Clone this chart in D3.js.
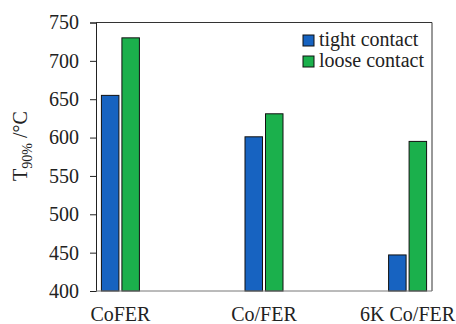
<!DOCTYPE html>
<html lang="en">
<head>
  <meta charset="UTF-8" />
  <title>T90% by catalyst</title>
  <script src="https://d3js.org/d3.v7.min.js"></script>
  <style>
    body { margin: 0; background: white; }
    svg text { font-family: "Liberation Serif", "DejaVu Serif", serif !important; }
  </style>
</head>
<body>
  <svg width="456" height="324"></svg>

  <script>
    // Data
    const categories = ["CoFER", "Co/FER", "6K Co/FER"];
    const tightContact = [655, 601, 447];
    const looseContact = [730, 631, 595];
    const seriesNames = ["tight contact", "loose contact"];
    const yTicks = [400, 450, 500, 550, 600, 650, 700, 750];

    const svg = d3.select("svg");
    const plotLeft = 96, plotRight = 432, plotTop = 22.5, plotBottom = 291;

    const colors = ["#1763c1", "#1bb04c"];

    const x = d3.scalePoint()
      .domain(categories)
      .range([plotLeft, plotRight])
      .padding(0.17);

    const y = d3.scaleLinear()
      .domain([400, 750])
      .range([plotBottom, plotTop]);

    // Frame (top and right)
    svg.append("path")
      .attr("d", `M${plotLeft},${plotTop}H${plotRight}V${plotBottom}`)
      .attr("fill", "none")
      .attr("stroke", "#333")
      .attr("stroke-width", 1);

    // Bars
    const barW = 17.5, gap = 3;
    const series = [tightContact, looseContact];
    series.forEach((vals, s) => {
      svg.append("g")
        .selectAll("rect")
        .data(categories)
        .enter()
        .append("rect")
        .attr("x", d => s === 0 ? x(d) - gap / 2 - barW : x(d) + gap / 2)
        .attr("y", (d, i) => y(vals[i]))
        .attr("width", barW)
        .attr("height", (d, i) => y(400) - y(vals[i]))
        .attr("fill", colors[s])
        .attr("stroke", "#111")
        .attr("stroke-width", 1);
    });

    // Y axis
    const yAxis = d3.axisLeft(y).tickValues(yTicks).tickSize(6).tickPadding(11);
    const gy = svg.append("g")
      .attr("transform", `translate(${plotLeft},0)`)
      .call(yAxis);
    gy.attr("font-family", null);
    gy.select(".domain").attr("stroke", "#222");
    gy.selectAll(".tick line").attr("stroke", "#222");
    gy.selectAll("text")
      .attr("font-size", 20)
      .attr("fill", "#222");

    // X axis line
    svg.append("line")
      .attr("x1", plotLeft).attr("x2", plotRight)
      .attr("y1", plotBottom).attr("y2", plotBottom)
      .attr("stroke", "#777");

    // Category labels
    svg.append("g")
      .selectAll("text")
      .data(categories)
      .enter()
      .append("text")
      .attr("x", d => x(d))
      .attr("y", 321)
      .attr("text-anchor", "middle")
      .attr("font-size", 20)
      .attr("fill", "#222")
      .text(d => d);

    // Y label
    const ylab = svg.append("text")
      .attr("transform", "translate(27,146) rotate(-90)")
      .attr("text-anchor", "middle")
      .attr("font-size", 20)
      .attr("fill", "#222");
    ylab.append("tspan").text("T");
    ylab.append("tspan").attr("font-size", 14).attr("dy", 5).text("90%");
    ylab.append("tspan").attr("dy", -5).text(" /°C");

    // Legend
    const legend = svg.append("g").attr("transform", "translate(303,35)");
    seriesNames.forEach((name, i) => {
      legend.append("rect")
        .attr("x", 0)
        .attr("y", i * 21)
        .attr("width", 11)
        .attr("height", 11)
        .attr("fill", colors[i])
        .attr("stroke", "#111");
      legend.append("text")
        .attr("x", 16)
        .attr("y", i * 21 + 11)
        .attr("font-size", 20)
        .attr("fill", "#222")
        .text(name);
    });
  </script>
</body>
</html>
